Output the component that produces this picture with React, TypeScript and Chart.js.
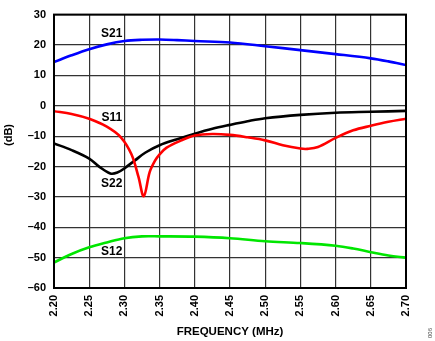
import React, { useEffect, useRef } from "react";
import { Chart, registerables } from "chart.js";

Chart.register(...registerables);

const yTicks = [-60, -50, -40, -30, -20, -10, 0, 10, 20, 30];
const xTicks = [2.2, 2.25, 2.3, 2.35, 2.4, 2.45, 2.5, 2.55, 2.6, 2.65, 2.7];

const s21Freq = [2.2, 2.225, 2.25, 2.275, 2.3, 2.325, 2.35, 2.375, 2.4, 2.45, 2.5, 2.55, 2.6, 2.65, 2.675, 2.7];
const s21Val = [14.4, 16.6, 18.6, 20.2, 21.3, 21.7, 21.8, 21.6, 21.3, 20.8, 19.6, 18.3, 17.0, 15.6, 14.6, 13.4];

const s11Freq = [2.2, 2.225, 2.25, 2.275, 2.295, 2.31, 2.32, 2.3275, 2.336, 2.3435, 2.35, 2.36, 2.38, 2.4, 2.425, 2.45, 2.475, 2.5, 2.525, 2.55, 2.56, 2.575, 2.6, 2.625, 2.65, 2.675, 2.7];
const s11Val = [-1.8, -2.7, -4.3, -6.9, -10.4, -16.0, -23.4, -29.8, -21.8, -18.1, -16.0, -13.8, -11.5, -9.8, -9.3, -9.6, -10.4, -11.4, -13.0, -14.1, -14.2, -13.6, -10.6, -8.1, -6.6, -5.3, -4.3];

const s22Freq = [2.2, 2.225, 2.25, 2.265, 2.28, 2.29, 2.3, 2.315, 2.33, 2.35, 2.375, 2.4, 2.425, 2.45, 2.475, 2.5, 2.55, 2.6, 2.65, 2.7];
const s22Val = [-12.4, -14.6, -17.4, -20.2, -22.3, -22.0, -20.6, -18.0, -15.4, -13.0, -11.0, -9.2, -7.6, -6.3, -5.1, -4.1, -3.0, -2.3, -2.0, -1.7];

const s12Freq = [2.2, 2.225, 2.25, 2.275, 2.3, 2.325, 2.35, 2.4, 2.45, 2.5, 2.55, 2.6, 2.625, 2.65, 2.675, 2.7];
const s12Val = [-51.6, -48.8, -46.6, -45.0, -43.6, -43.0, -43.0, -43.1, -43.6, -44.6, -45.2, -46.1, -47.0, -48.2, -49.3, -50.0];

const seriesLabels = ["S21", "S11", "S22", "S12"];
const labelFreq = [2.282, 2.282, 2.282, 2.282];
const labelVal = [23.6, -3.8, -25.5, -47.9];

const FONT = "'Liberation Sans', Arial, sans-serif";

const toPts = (f: number[], v: number[]) => f.map((x, i) => ({ x, y: v[i] }));

const textPlugin = {
  id: "texts",
  afterDatasetsDraw(chart: any) {
    const { ctx, chartArea, scales } = chart;
    ctx.save();
    ctx.strokeStyle = "#000";
    ctx.lineWidth = 2;
    ctx.strokeRect(chartArea.left, chartArea.top, chartArea.right - chartArea.left, chartArea.bottom - chartArea.top);
    ctx.fillStyle = "#000";
    ctx.font = `bold 12px ${FONT}`;
    ctx.textAlign = "center";
    ctx.textBaseline = "middle";
    seriesLabels.forEach((t, i) => {
      ctx.fillText(t, scales.x.getPixelForValue(labelFreq[i]), scales.y.getPixelForValue(labelVal[i]));
    });
    ctx.font = `bold 11.5px ${FONT}`;
    ctx.fillText("FREQUENCY (MHz)", (chartArea.left + chartArea.right) / 2, 332);
    ctx.save();
    ctx.translate(9, 135);
    ctx.rotate(-Math.PI / 2);
    ctx.font = `bold 11px ${FONT}`;
    ctx.fillText("(dB)", 0, 0);
    ctx.restore();
    ctx.save();
    ctx.translate(430, 333);
    ctx.rotate(-Math.PI / 2);
    ctx.font = `6px ${FONT}`;
    ctx.fillStyle = "#444";
    ctx.fillText("006", 0, 0);
    ctx.restore();
    ctx.restore();
  },
};

export default function App() {
  const ref = useRef<HTMLCanvasElement>(null);
  useEffect(() => {
    document.body.style.margin = "0";
    const mk = (label: string, f: number[], v: number[], color: string) => ({
      label,
      data: toPts(f, v),
      borderColor: color,
      backgroundColor: color,
      borderWidth: 2.6,
      pointRadius: 0,
      tension: 0.35,
      fill: false,
    });
    const chart = new Chart(ref.current!, {
      type: "line",
      data: {
        datasets: [
          mk("S21", s21Freq, s21Val, "#0000ff"),
          mk("S11", s11Freq, s11Val, "#ff0000"),
          mk("S22", s22Freq, s22Val, "#000000"),
          mk("S12", s12Freq, s12Val, "#00e600"),
        ],
      },
      options: {
        animation: false,
        responsive: false,
        layout: { padding: { top: 6, right: 29, left: 0, bottom: 0 } },
        plugins: { legend: { display: false }, tooltip: { enabled: false } },
        scales: {
          x: {
            type: "linear",
            min: 2.2,
            max: 2.7,
            afterBuildTicks: (s: any) => {
              s.ticks = xTicks.map((value) => ({ value }));
            },
            afterFit: (s: any) => {
              s.height = 53;
            },
            grid: { color: "#333", lineWidth: 1.2, drawTicks: false },
            border: { display: true, color: "#000", width: 2 },
            ticks: {
              autoSkip: false,
              minRotation: 90,
              maxRotation: 90,
              padding: 7,
              color: "#000",
              font: { family: FONT, size: 11, weight: "bold" },
              callback: (v: any) => Number(v).toFixed(2),
            },
          },
          y: {
            type: "linear",
            min: -60,
            max: 30,
            afterBuildTicks: (s: any) => {
              s.ticks = yTicks.map((value) => ({ value }));
            },
            afterFit: (s: any) => {
              s.width = 54;
            },
            grid: { color: "#333", lineWidth: 1.2, drawTicks: false },
            border: { display: true, color: "#000", width: 2 },
            ticks: {
              padding: 8,
              color: "#000",
              font: { family: FONT, size: 11, weight: "bold" },
              callback: (v: any) => String(v).replace("-", "–"),
            },
          },
        },
      },
      plugins: [textPlugin],
    });
    return () => chart.destroy();
  }, []);
  return (
    <div style={{ width: 435, height: 341 }}>
      <canvas ref={ref} width={435} height={341} />
    </div>
  );
}
